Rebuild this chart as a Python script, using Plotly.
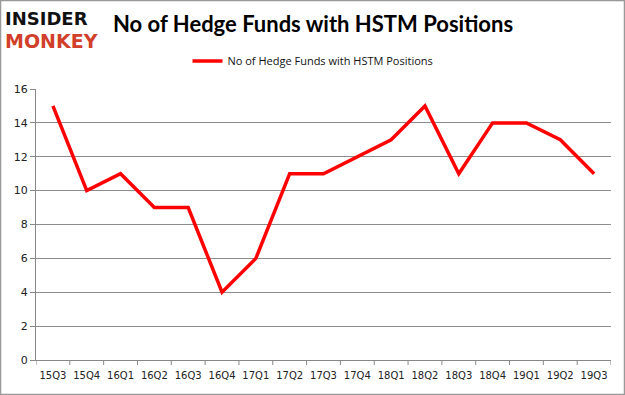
import plotly.graph_objects as go

quarters = ["15Q3", "15Q4", "16Q1", "16Q2", "16Q3", "16Q4", "17Q1", "17Q2", "17Q3",
            "17Q4", "18Q1", "18Q2", "18Q3", "18Q4", "19Q1", "19Q2", "19Q3"]
funds = [15, 10, 11, 9, 9, 4, 6, 11, 11, 12, 13, 15, 11, 14, 14, 13, 11]
y_ticks = [0, 2, 4, 6, 8, 10, 12, 14, 16]
series_name = "No of Hedge Funds with HSTM Positions"
title_text = "No of Hedge Funds with HSTM Positions"

W, H = 625, 395
ml, mr, mt, mb = 36, 14, 89, 35
pw, ph = W - ml - mr, H - mt - mb

fig = go.Figure()
fig.add_trace(go.Scatter(
    x=list(range(len(quarters))), y=funds, mode="lines", name=series_name,
    line=dict(color="#ff0000", width=3.5), showlegend=True,
))

n = len(quarters)
fig.update_xaxes(
    range=[-0.5, n - 0.5], tickmode="array", automargin=False,
    tickvals=list(range(n)), ticktext=quarters,
    showgrid=False, zeroline=False, showline=True, linecolor="#888888", linewidth=1,
    ticks="", tickfont=dict(family="DejaVu Sans", size=10, color="#222222"),
    ticklabelstandoff=6,
)
fig.update_yaxes(
    range=[0, 16], tickmode="array", tickvals=y_ticks, automargin=False,
    showgrid=True, gridcolor="#8c8c8c", gridwidth=1, zeroline=False,
    showline=True, linecolor="#888888", linewidth=1,
    ticks="outside", ticklen=5, tickcolor="#888888",
    tickfont=dict(family="DejaVu Sans", size=11, color="#222222"),
)

# category boundary tick marks on x axis
shapes = []
for i in range(n + 1):
    xb = i - 0.5
    shapes.append(dict(type="line", xref="x", yref="paper", x0=xb, x1=xb,
                       y0=0, y1=-5 / ph, line=dict(color="#888888", width=1)))
# outer border
shapes.append(dict(type="rect", xref="paper", yref="paper",
                   x0=(-ml + 0.5) / pw, x1=(W - ml - 0.5) / pw,
                   y0=(-mb + 0.5) / ph, y1=(H - mb - 0.5) / ph,
                   line=dict(color="#999999", width=1.5), layer="below"))

annotations = [
    dict(text="<b>INSIDER</b>", xref="paper", yref="paper",
         x=(4 - ml) / pw, y=(H - mb - 18) / ph, xanchor="left", yanchor="middle",
         showarrow=False, borderpad=0,
         font=dict(family="DejaVu Sans", size=18, color="#111111")),
    dict(text="<b>MONKEY</b>", xref="paper", yref="paper",
         x=(4 - ml) / pw, y=(H - mb - 41) / ph, xanchor="left", yanchor="middle",
         showarrow=False, borderpad=0,
         font=dict(family="DejaVu Sans", size=19, color="#d13f2a")),
    dict(text="<b>" + title_text + "</b>", xref="paper", yref="paper",
         x=(111 - ml) / pw, y=(H - mb - 24) / ph, xanchor="left", yanchor="middle",
         showarrow=False, font=dict(family="Lato", size=22, color="#000000")),
]

fig.update_layout(
    width=W, height=H,
    margin=dict(l=ml, r=mr, t=mt, b=mb, autoexpand=False),
    paper_bgcolor="white", plot_bgcolor="white",
    showlegend=True,
    legend=dict(orientation="h", x=(313 - ml) / pw, y=(H - mb - 61) / ph,
                xanchor="center", yanchor="middle",
                font=dict(family="Open Sans", size=11, color="#111111"),
                bgcolor="rgba(0,0,0,0)"),
    shapes=shapes, annotations=annotations,
)

fig.write_html("out.html", config={"displayModeBar": False},
               post_script="document.body.style.margin='0';")
